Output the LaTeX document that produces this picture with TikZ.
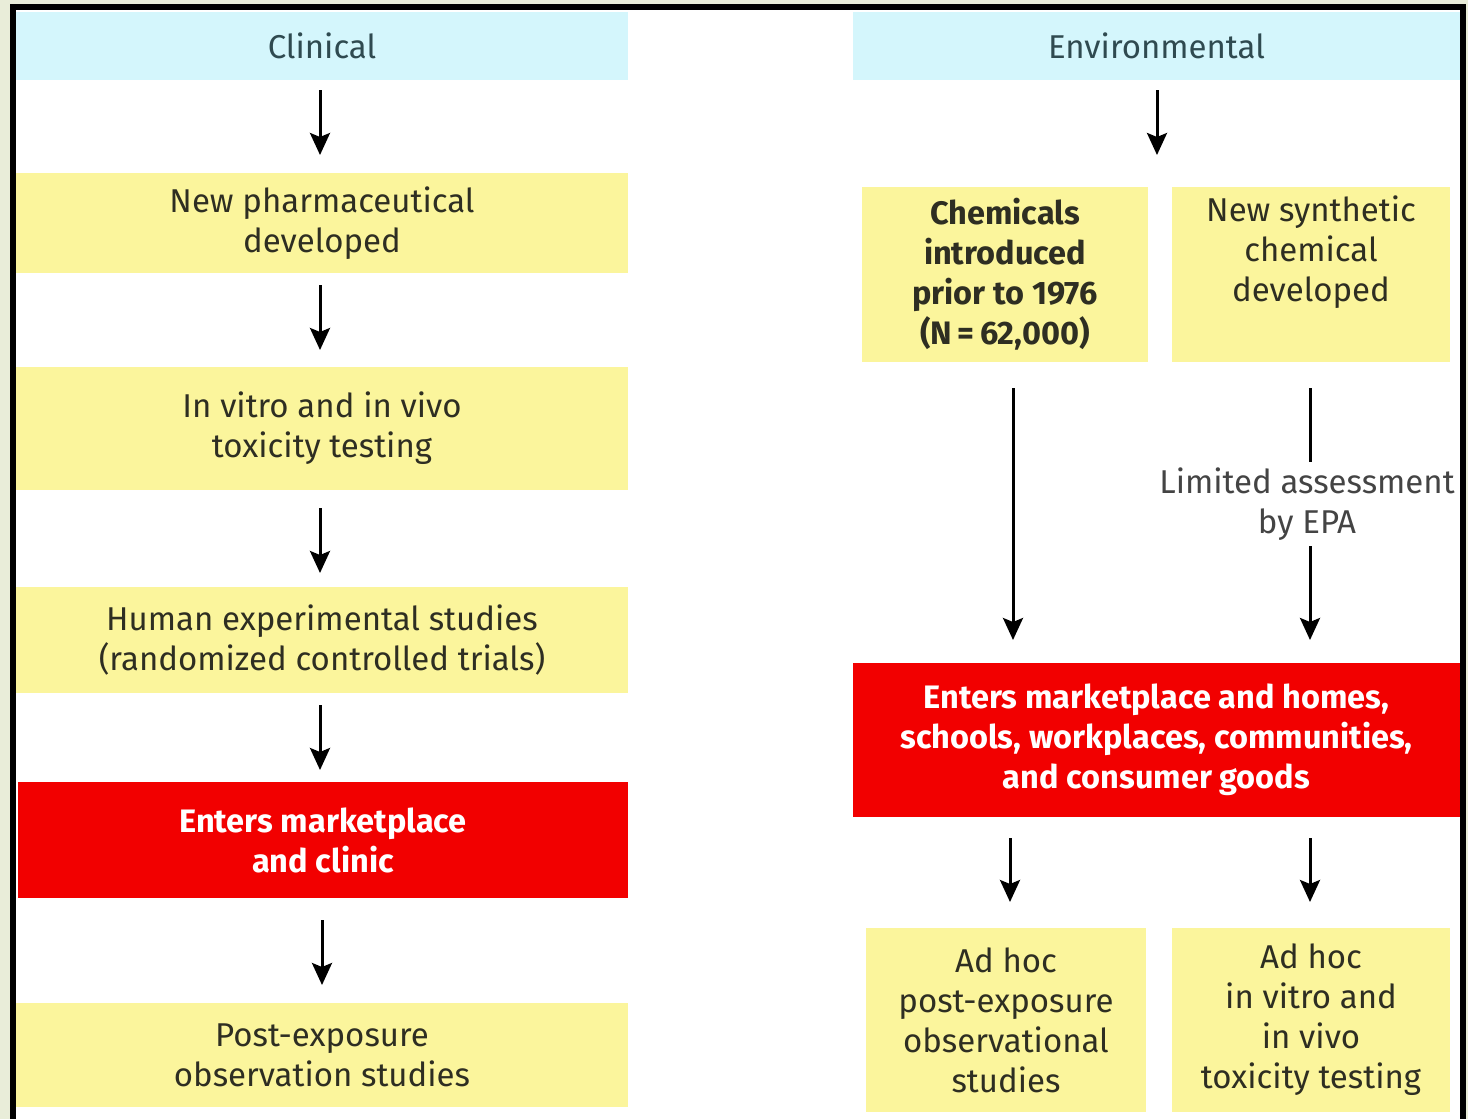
\documentclass[tikz,border=0pt]{standalone}
\usepackage{fontspec}
\setmainfont{Fira Sans}
\usetikzlibrary{arrows.meta}
\definecolor{bgc}{HTML}{E9EDD9}
\definecolor{cyanh}{HTML}{D4F6FC}
\definecolor{yel}{HTML}{FBF59C}
\definecolor{redb}{HTML}{F20000}
\definecolor{txt}{HTML}{2E2E22}
\definecolor{htxt}{HTML}{2F4A50}
\definecolor{lbl}{HTML}{444444}
\begin{document}
\begin{tikzpicture}[x=1pt,y=-1pt,
  base/.style={inner sep=0pt, outer sep=0pt, align=center, font=\fontsize{33}{40}\selectfont},
  hdr/.style={base, fill=cyanh, text=htxt, minimum height=68pt},
  ybox/.style={base, fill=yel, text=txt},
  rbox/.style={base, fill=redb, text=white, font=\fontsize{32.5}{40}\selectfont\bfseries},
  arr/.style={line width=3pt, -{Stealth[length=22pt,width=20pt,inset=4pt]}},
  lab/.style={base, fill=white, text=lbl, inner ysep=6pt, font=\fontsize{33}{40}\selectfont}
]
\clip (0,0) rectangle (1468,1119);
\fill[bgc] (0,0) rectangle (1468,1119);
\fill[white] (13,7) rectangle (1463,1130);
\draw[line width=6pt] (13,7) rectangle (1463,1130);

% left column
\node[hdr, minimum width=612pt] (clin) at (322,46) {Clinical};
\node[ybox, minimum width=612pt, minimum height=100pt] (pharm) at (322,223) {New pharmaceutical\\developed};
\node[ybox, minimum width=612pt, minimum height=123pt] (vitro) at (322,428.5) {In vitro and in vivo\\toxicity testing};
\node[ybox, minimum width=612pt, minimum height=106pt] (human) at (322,640) {Human experimental studies\\(randomized controlled trials)};
\node[rbox, minimum width=610pt, minimum height=116pt] (mkt) at (323,840) {Enters marketplace\\and clinic};
\node[ybox, minimum width=612pt, minimum height=104pt] (post) at (322,1055) {Post-exposure\\observation studies};

\draw[arr, shorten <=10pt, shorten >=18pt] ([xshift=-2pt]clin.south) -- ([xshift=-2pt]pharm.north);
\draw[arr, shorten <=12pt, shorten >=17pt] ([xshift=-2pt]pharm.south) -- ([xshift=-2pt]vitro.north);
\draw[arr, shorten <=18pt, shorten >=14pt] ([xshift=-2pt]vitro.south) -- ([xshift=-2pt]human.north);
\draw[arr, shorten <=12pt, shorten >=12pt] ([xshift=-2pt]human.south) -- ([xshift=-2pt]human.south |- mkt.north);
\draw[arr, shorten <=22pt, shorten >=18pt] (mkt.south -| post.north) -- (post.north);

% right column
\node[hdr, minimum width=607pt] (env) at (1156.5,46) {Environmental};
\coordinate (split) at (1157,173);
\node[ybox, minimum width=286pt, minimum height=175pt, font=\fontsize{32.5}{40}\selectfont\bfseries] (chem) at (1005,274.5) {Chemicals\\introduced\\prior to 1976\\(N\,=\,62,000)};
\node[ybox, minimum width=278pt, minimum height=175pt] (synth) at (1311,274.5) {New synthetic\\chemical\\developed\\\strut};
\node[rbox, minimum width=607pt, minimum height=154pt] (redR) at (1156.5,740) {Enters marketplace and homes,\\schools, workplaces, communities,\\and consumer goods};
\node[ybox, minimum width=280pt, minimum height=184pt] (adhoc1) at (1006,1020) {Ad hoc\\post-exposure\\observational\\studies};
\node[ybox, minimum width=278pt, minimum height=184pt] (adhoc2) at (1311,1020) {Ad hoc\\in vitro and\\in vivo\\toxicity testing};

\draw[arr, shorten <=10pt, shorten >=18pt] ([xshift=0.5pt]env.south) -- (split);
\draw[arr, shorten <=26pt, shorten >=23pt] ([xshift=8pt]chem.south) -- ([xshift=8pt]chem.south |- redR.north);
\draw[arr, shorten <=26pt, shorten >=23pt] ([xshift=-1pt]synth.south) -- ([xshift=-1pt]synth.south |- redR.north);
\node[lab] (epa) at (1307,504) {Limited assessment\\by EPA};
\draw[arr, shorten <=21pt, shorten >=26pt] ([xshift=-146.5pt]redR.south) -- ([xshift=4pt]adhoc1.north);
\draw[arr, shorten <=21pt, shorten >=26pt] ([xshift=153.5pt]redR.south) -- ([xshift=-1pt]adhoc2.north);
\end{tikzpicture}
\end{document}
